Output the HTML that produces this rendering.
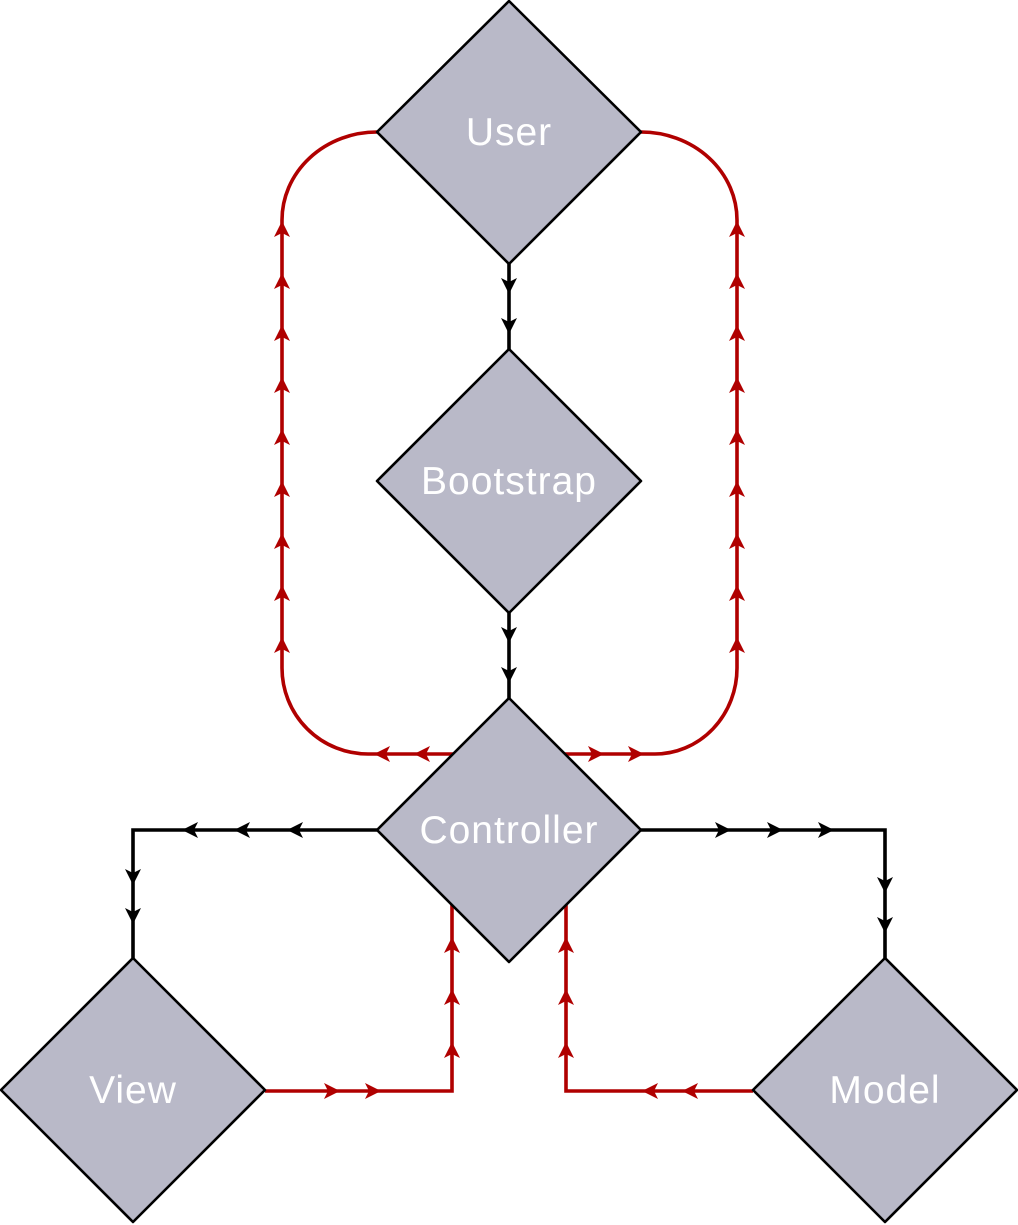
<!DOCTYPE html>
<html>
<head>
<meta charset="utf-8">
<style>
  html, body { margin: 0; padding: 0; background: #ffffff; }
  svg { display: block; }
  text { font-family: "Liberation Sans", "DejaVu Sans", sans-serif; font-size: 39px; fill: #ffffff; text-anchor: middle; letter-spacing: 1px; }
</style>
</head>
<body>
<svg width="1018" height="1225" viewBox="0 0 1018 1225" xmlns="http://www.w3.org/2000/svg">
  <!-- red loops -->
  <g fill="none" stroke="#b00000" stroke-width="3.6">
    <path d="M377,132 A95 88 0 0 0 282 220 L282 668 A86 86 0 0 0 368 754 L455 754"/>
    <path d="M641,132 A96 88 0 0 1 737 220 L737 668 A82 86 0 0 1 655 754 L563 754"/>
    <path d="M265,1091 L452,1091 L452,904"/>
    <path d="M753,1091 L566,1091 L566,904"/>
  </g>

  <!-- black connectors -->
  <g fill="none" stroke="#000" stroke-width="3.6">
    <path d="M509,264 L509,349"/>
    <path d="M509,613 L509,698"/>
    <path d="M377,830 L133,830 L133,958"/>
    <path d="M641,830 L885,830 L885,958"/>
  </g>

  <!-- red arrows: up-pointing (tip at y) -->
  <g fill="#b00000">
    <!-- left vertical x=282 -->
    <polygon points="282,221 290,237 282,233 274,237"/>
    <polygon points="282,273 290,289 282,285 274,289"/>
    <polygon points="282,325 290,341 282,337 274,341"/>
    <polygon points="282,377 290,393 282,389 274,393"/>
    <polygon points="282,429 290,445 282,441 274,445"/>
    <polygon points="282,481 290,497 282,493 274,497"/>
    <polygon points="282,533 290,549 282,545 274,549"/>
    <polygon points="282,585 290,601 282,597 274,601"/>
    <polygon points="282,637 290,653 282,649 274,653"/>
    <!-- right vertical x=737 -->
    <polygon points="737,221 745,237 737,233 729,237"/>
    <polygon points="737,273 745,289 737,285 729,289"/>
    <polygon points="737,325 745,341 737,337 729,341"/>
    <polygon points="737,377 745,393 737,389 729,393"/>
    <polygon points="737,429 745,445 737,441 729,445"/>
    <polygon points="737,481 745,497 737,493 729,497"/>
    <polygon points="737,533 745,549 737,545 729,549"/>
    <polygon points="737,585 745,601 737,597 729,601"/>
    <polygon points="737,637 745,653 737,649 729,653"/>
    <!-- horizontal y=754 -->
    <polygon points="374,754 390,746 386,754 390,762"/>
    <polygon points="414,754 430,746 426,754 430,762"/>
    <polygon points="604,754 588,746 592,754 588,762"/>
    <polygon points="644,754 628,746 632,754 628,762"/>
    <!-- bottom left -->
    <polygon points="340,1091 324,1083 328,1091 324,1099"/>
    <polygon points="381,1091 365,1083 369,1091 365,1099"/>
    <polygon points="452,937 460,953 452,949 444,953"/>
    <polygon points="452,989 460,1005 452,1001 444,1005"/>
    <polygon points="452,1042 460,1058 452,1054 444,1058"/>
    <!-- bottom right -->
    <polygon points="642,1091 658,1083 654,1091 658,1099"/>
    <polygon points="682,1091 698,1083 694,1091 698,1099"/>
    <polygon points="566,937 574,953 566,949 558,953"/>
    <polygon points="566,989 574,1005 566,1001 558,1005"/>
    <polygon points="566,1042 574,1058 566,1054 558,1058"/>
  </g>

  <!-- black arrows -->
  <g fill="#000">
    <!-- down (tip at y) -->
    <polygon points="509,294 517,278 509,282 501,278"/>
    <polygon points="509,334 517,318 509,322 501,318"/>
    <polygon points="509,643 517,627 509,631 501,627"/>
    <polygon points="509,683 517,667 509,671 501,667"/>
    <polygon points="133,885 141,869 133,873 125,869"/>
    <polygon points="133,924 141,908 133,912 125,908"/>
    <polygon points="885,893 893,877 885,881 877,877"/>
    <polygon points="885,933 893,917 885,921 877,917"/>
    <!-- left -->
    <polygon points="182,830 198,822 194,830 198,838"/>
    <polygon points="234,830 250,822 246,830 250,838"/>
    <polygon points="287,830 303,822 299,830 303,838"/>
    <!-- right -->
    <polygon points="731,830 715,822 719,830 715,838"/>
    <polygon points="783,830 767,822 771,830 767,838"/>
    <polygon points="834,830 818,822 822,830 818,838"/>
  </g>

  <!-- diamonds -->
  <g fill="#b9b9c8" stroke="#000" stroke-width="2.6" stroke-linejoin="round">
    <polygon points="509,1 641,132 509,264 377,132"/>
    <polygon points="509,349 641,481 509,613 377,481"/>
    <polygon points="509,698 641,830 509,962 377,830"/>
    <polygon points="133,958 265,1090 133,1222 1,1090"/>
    <polygon points="885,958 1017,1090 885,1222 753,1090"/>
  </g>

  <!-- labels -->
  <text x="509" y="145">User</text>
  <text x="509" y="494">Bootstrap</text>
  <text x="509" y="843">Controller</text>
  <text x="133" y="1103">View</text>
  <text x="885" y="1103">Model</text>
</svg>
</body>
</html>
